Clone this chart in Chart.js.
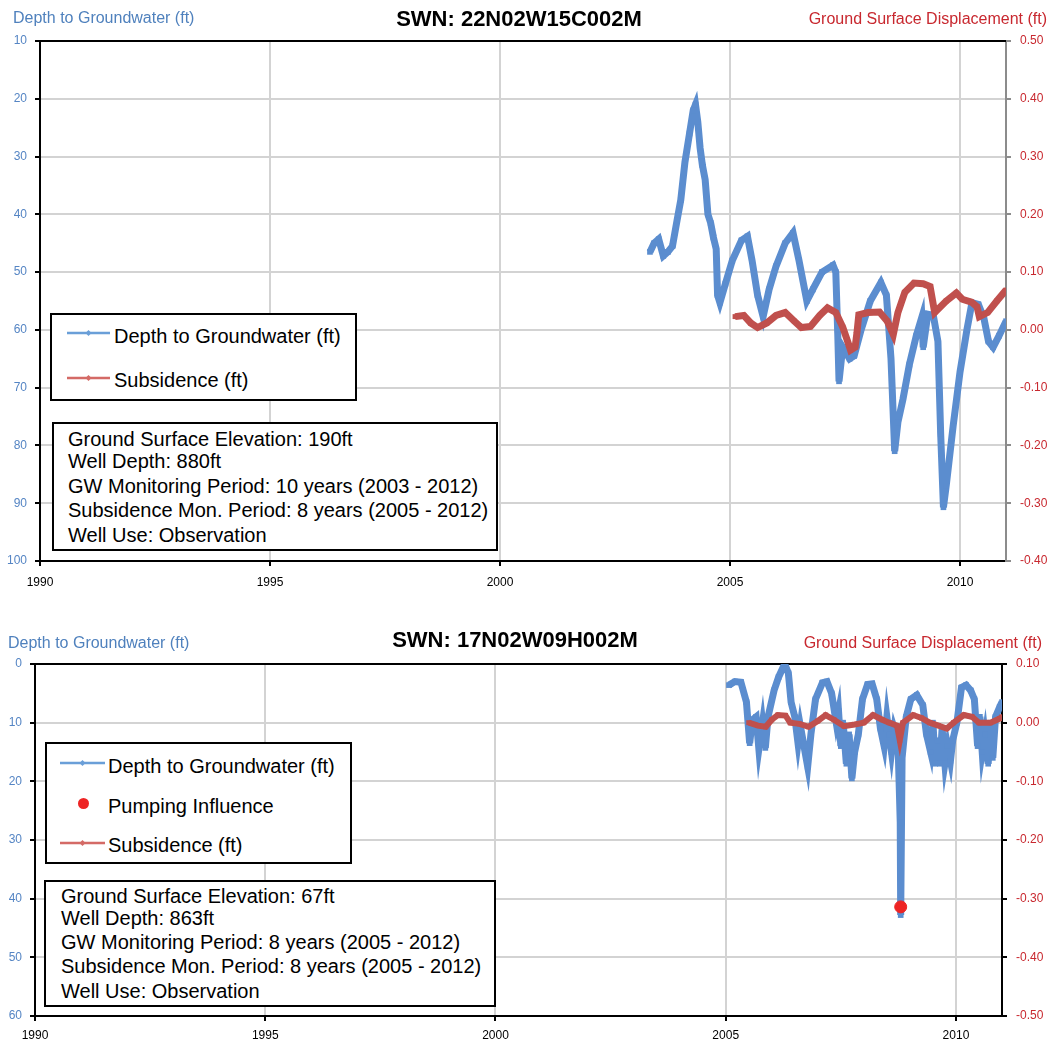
<!DOCTYPE html>
<html>
<head>
<meta charset="utf-8">
<script src="https://cdn.jsdelivr.net/npm/chart.js@4.4.1/dist/chart.umd.min.js"></script>
<style>
  body { margin: 0; background: #fff; font-family: "Liberation Sans", Arial, sans-serif; }
  #page { position: relative; width: 1058px; height: 1044px; overflow: hidden; }
  canvas { position: absolute; left: 0; }
  .t { position: absolute; white-space: nowrap; line-height: 1; }
  .box { position: absolute; border: 2px solid #000; background: #fff; box-sizing: border-box; }
  .lg { position: absolute; }
</style>
</head>
<body>
<div id="page">
  <canvas id="topChart" width="1058" height="600" style="top:0"></canvas>
  <canvas id="bottomChart" width="1058" height="424" style="top:620px"></canvas>
</div>
<script>
const xTicks = [1990, 1995, 2000, 2005, 2010];
const topLeftTicks = [10, 20, 30, 40, 50, 60, 70, 80, 90, 100];
const topRightTicks = [-0.4, -0.3, -0.2, -0.1, 0, 0.1, 0.2, 0.3, 0.4, 0.5];

const topDepthYears = [2003.26, 2003.35, 2003.45, 2003.55, 2003.65, 2003.75, 2003.85, 2003.93, 2004.02, 2004.12,
  2004.20, 2004.25, 2004.30, 2004.35, 2004.40, 2004.46, 2004.52, 2004.58, 2004.64, 2004.70,
  2004.73, 2004.78, 2004.90, 2005.05, 2005.25, 2005.38, 2005.48, 2005.60, 2005.72, 2005.85,
  2006.00, 2006.20, 2006.37, 2006.50, 2006.67, 2006.80, 2007.00, 2007.24, 2007.30, 2007.34,
  2007.37, 2007.45, 2007.60, 2007.70, 2007.85, 2008.05, 2008.28, 2008.40, 2008.50, 2008.58,
  2008.65, 2008.76, 2008.90, 2009.05, 2009.17, 2009.20, 2009.30, 2009.42, 2009.52, 2009.58,
  2009.64, 2009.70, 2009.85, 2010.00, 2010.15, 2010.26, 2010.40, 2010.52, 2010.62, 2010.72,
  2010.85, 2011.00];
const topDepthValues = [46.5, 45.0, 44.3, 47.2, 46.5, 45.5, 41, 37.5, 31, 26,
  22, 21, 24, 28.5, 31.5, 34, 40, 41.5, 44, 46,
  54, 55.3, 52, 48, 44.5, 43.8, 48, 54, 57.7, 53,
  49, 45, 43.2, 48, 55, 53, 50, 48.8, 50, 60,
  68.9, 63, 65, 64.5, 60, 55, 51.8, 54, 65, 81,
  76, 72, 66, 61, 57.8, 63, 57.3, 57.5, 62, 78,
  90.7, 87, 76.7, 67.3, 60, 55.3, 55.6, 58, 62, 63,
  61, 58.5];

const topSubYears = [2005.11, 2005.30, 2005.45, 2005.60, 2005.80, 2006.00, 2006.20, 2006.40, 2006.55, 2006.75,
  2006.95, 2007.12, 2007.30, 2007.45, 2007.55, 2007.62, 2007.72, 2007.76, 2007.80, 2008.00,
  2008.25, 2008.42, 2008.55, 2008.65, 2008.80, 2009.00, 2009.20, 2009.35, 2009.45, 2009.70,
  2009.92, 2010.05, 2010.25, 2010.37, 2010.42, 2010.60, 2010.80, 2011.00];
const topSubValues = [0.023, 0.025, 0.012, 0.004, 0.012, 0.025, 0.030, 0.015, 0.004, 0.006,
  0.025, 0.038, 0.030, 0.005, -0.018, -0.035, -0.030, -0.005, 0.026, 0.030,
  0.031, 0.015, -0.008, 0.030, 0.065, 0.081, 0.080, 0.075, 0.030, 0.050,
  0.064, 0.053, 0.048, 0.040, 0.023, 0.030, 0.050, 0.069];

const bottomLeftTicks = [0, 10, 20, 30, 40, 50, 60];
const bottomRightTicks = [-0.5, -0.4, -0.3, -0.2, -0.1, 0, 0.1];

const bottomDepthYears = [2005.07, 2005.20, 2005.33, 2005.45, 2005.52, 2005.58, 2005.66, 2005.72, 2005.80, 2005.86,
  2005.92, 2006.05, 2006.15, 2006.28, 2006.36, 2006.42, 2006.50, 2006.57, 2006.62, 2006.70,
  2006.78, 2006.85, 2006.95, 2007.10, 2007.20, 2007.30, 2007.40, 2007.45, 2007.50, 2007.55,
  2007.62, 2007.68, 2007.74, 2007.80, 2007.88, 2007.97, 2008.08, 2008.18, 2008.28, 2008.36,
  2008.44, 2008.50, 2008.55, 2008.60, 2008.66, 2008.74, 2008.79, 2008.80, 2008.83, 2008.92,
  2009.02, 2009.15, 2009.28, 2009.36, 2009.45, 2009.50, 2009.55, 2009.60, 2009.65, 2009.70,
  2009.76, 2009.82, 2009.88, 2009.93, 2010.02, 2010.12, 2010.22, 2010.32, 2010.40, 2010.47,
  2010.52, 2010.57, 2010.63, 2010.70, 2010.75, 2010.80, 2010.86, 2010.95, 2011.00];
const bottomDepthValues = [3.6, 3.0, 3.1, 6.5, 13.5, 9.5, 9.0, 14.5, 10, 14.3,
  9, 4.5, 2.2, 0, 1.5, 6.5, 9, 13.5, 10.5, 14,
  17.5, 12, 6, 3.2, 3.0, 5, 10, 8, 14, 10,
  17, 12, 19.5, 15, 12, 6, 3.5, 3.4, 6, 11,
  14, 9, 12, 15, 11, 13, 27, 42.8, 16, 9,
  6, 5.3, 7, 12, 15, 10, 17, 13, 17, 11,
  17, 14, 16.5, 13, 10, 4, 3.6, 4.5, 6, 14,
  9, 15, 12, 17, 10, 16, 9, 7.3, 6.5];

const pumpingYears = [2008.80];
const pumpingValues = [41.4];

const bottomSubYears = [2005.50, 2005.70, 2005.87, 2006.00, 2006.13, 2006.30, 2006.40, 2006.60, 2006.80, 2007.00,
  2007.17, 2007.35, 2007.57, 2007.80, 2008.00, 2008.20, 2008.40, 2008.55, 2008.72, 2008.78,
  2008.85, 2009.07, 2009.25, 2009.43, 2009.62, 2009.80, 2009.95, 2010.17, 2010.35, 2010.50,
  2010.75, 2010.95, 2011.00];
const bottomSubValues = [0.0, -0.005, -0.007, 0.005, 0.013, 0.012, 0.0, -0.002, -0.007, 0.003,
  0.013, 0.005, -0.006, -0.003, 0.0, 0.013, 0.005, 0.0, -0.005, -0.03,
  0.0, 0.013, 0.008, 0.0, -0.005, -0.01, 0.0, 0.013, 0.01, 0.0,
  0.0, 0.007, 0.01];

const BLUE = '#5b8dcf';
const RED = '#c0504d';
const GRID = '#d3d3d3';

Chart.defaults.font.family = '"Liberation Sans", Arial, sans-serif';
Chart.defaults.font.size = 12;

function pts(xs, ys) {
  return xs.map((x, i) => ({ x: x, y: ys[i] }));
}

// ligne noire en haut de la zone de tracé
const topLine = {
  id: 'topLine',
  beforeDatasetsDraw(chart) {
    const a = chart.chartArea;
    const ctx = chart.ctx;
    ctx.save();
    ctx.strokeStyle = '#000';
    ctx.lineWidth = 2;
    ctx.beginPath();
    ctx.moveTo(a.left - 1, a.top);
    ctx.lineTo(a.right, a.top);
    ctx.stroke();
    ctx.restore();
  }
};

function makeChart(id, o) {
  const datasets = [];
  if (o.pumping) {
    datasets.push({
      data: o.pumping, showLine: false, pointRadius: 6, pointHoverRadius: 6,
      pointBackgroundColor: '#ee2424', pointBorderColor: '#ee2424', yAxisID: 'yL'
    });
  }
  datasets.push({
    data: o.sub, borderColor: RED, backgroundColor: RED, borderWidth: o.subW,
    pointStyle: 'rect', pointRadius: 3.5, pointBorderWidth: 0, pointBackgroundColor: RED,
    tension: 0, yAxisID: 'yR'
  });
  datasets.push({
    data: o.depth, borderColor: BLUE, backgroundColor: BLUE, borderWidth: 7,
    pointStyle: 'rect', pointRadius: 4, pointBorderWidth: 0, pointBackgroundColor: BLUE,
    tension: 0, yAxisID: 'yL'
  });

  return new Chart(document.getElementById(id).getContext('2d'), {
    type: 'line',
    data: { datasets: datasets },
    options: {
      responsive: false,
      animation: false,
      layout: { padding: { top: o.padTop, left: 0, right: 0, bottom: 0 } },
      plugins: { legend: { display: false }, tooltip: { enabled: false } },
      scales: {
        x: {
          type: 'linear', min: 1990, max: 2011,
          afterBuildTicks: a => { a.ticks = xTicks.map(v => ({ value: v })); },
          afterFit: a => { a.height = o.xH; },
          grid: { color: GRID, lineWidth: 2, tickColor: '#000', tickLength: 5 },
          border: { color: '#000', width: 2 },
          ticks: { color: '#000', padding: o.xPad, maxRotation: 0, autoSkip: false, callback: v => String(v) }
        },
        yL: {
          type: 'linear', position: 'left', reverse: true, min: o.leftTicks[0], max: o.leftTicks[o.leftTicks.length - 1],
          afterBuildTicks: a => { a.ticks = o.leftTicks.map(v => ({ value: v })); },
          afterFit: a => { a.width = o.leftW; },
          grid: { color: GRID, lineWidth: 2, tickColor: '#000', tickLength: 5 },
          border: { color: '#000', width: 2 },
          ticks: { color: '#5585c4', padding: 8, callback: v => String(v) }
        },
        yR: {
          type: 'linear', position: 'right', min: o.rightTicks[0], max: o.rightTicks[o.rightTicks.length - 1],
          afterBuildTicks: a => { a.ticks = o.rightTicks.map(v => ({ value: v })); },
          afterFit: a => { a.width = o.rightW; },
          grid: { drawOnChartArea: false, tickColor: o.rightColor, tickLength: 5, lineWidth: 2 },
          border: { color: o.rightColor, width: 2 },
          ticks: { color: '#c8282f', padding: 9, callback: v => v.toFixed(2) }
        }
      }
    },
    plugins: [topLine]
  });
}

const chartTop = makeChart('topChart', {
  depth: pts(topDepthYears, topDepthValues),
  sub: pts(topSubYears, topSubValues),
  leftTicks: topLeftTicks, rightTicks: topRightTicks,
  padTop: 41, xH: 39, xPad: 9, leftW: 40, rightW: 52, rightColor: '#8c8c8c', subW: 7
});

const chartBottom = makeChart('bottomChart', {
  depth: pts(bottomDepthYears, bottomDepthValues),
  sub: pts(bottomSubYears, bottomSubValues),
  pumping: pts(pumpingYears, pumpingValues),
  leftTicks: bottomLeftTicks, rightTicks: bottomRightTicks,
  padTop: 44, xH: 28, xPad: 7, leftW: 35, rightW: 56, rightColor: '#000', subW: 6
});

// textes, légendes et cadres d'information
const page = document.getElementById('page');

function addText(txt, left, baseline, size, color, bold, align) {
  const d = document.createElement('div');
  d.className = 't';
  d.textContent = txt;
  d.style.fontSize = size + 'px';
  d.style.color = color;
  d.style.top = (baseline - size * 0.8465) + 'px';
  if (bold) d.style.fontWeight = 'bold';
  if (align === 'right') {
    d.style.right = (1058 - left) + 'px';
  } else if (align === 'center') {
    d.style.left = (left - 300) + 'px';
    d.style.width = '600px';
    d.style.textAlign = 'center';
  } else {
    d.style.left = left + 'px';
  }
  page.appendChild(d);
}

function addBox(l, t, w, h) {
  const b = document.createElement('div');
  b.className = 'box';
  b.style.left = l + 'px';
  b.style.top = t + 'px';
  b.style.width = w + 'px';
  b.style.height = h + 'px';
  page.appendChild(b);
}

function addLineSample(x1, x2, y, color) {
  const s = document.createElementNS('http://www.w3.org/2000/svg', 'svg');
  s.setAttribute('class', 'lg');
  s.setAttribute('width', x2 - x1);
  s.setAttribute('height', 10);
  s.style.left = x1 + 'px';
  s.style.top = (y - 5) + 'px';
  const m = (x2 - x1) / 2;
  s.innerHTML = '<line x1="0" y1="5" x2="' + (x2 - x1) + '" y2="5" stroke="' + color + '" stroke-width="2.5"/>' +
    '<polygon points="' + (m - 3) + ',5 ' + m + ',2 ' + (m + 3) + ',5 ' + m + ',8" fill="' + color + '"/>';
  page.appendChild(s);
}

function addDot(x, y, r, color) {
  const s = document.createElementNS('http://www.w3.org/2000/svg', 'svg');
  s.setAttribute('class', 'lg');
  s.setAttribute('width', 2 * r + 2);
  s.setAttribute('height', 2 * r + 2);
  s.style.left = (x - r - 1) + 'px';
  s.style.top = (y - r - 1) + 'px';
  s.innerHTML = '<circle cx="' + (r + 1) + '" cy="' + (r + 1) + '" r="' + r + '" fill="' + color + '"/>';
  page.appendChild(s);
}

const TITLE_BLUE = '#4f81bd';
const TITLE_RED = '#c8282f';

// graphique du haut
addText('Depth to Groundwater (ft)', 13, 24, 16, TITLE_BLUE);
addText('SWN: 22N02W15C002M', 519, 27, 22, '#000', true, 'center');
addText('Ground Surface Displacement (ft)', 1047, 25, 16, TITLE_RED, false, 'right');

addBox(50, 313, 307, 88);
addLineSample(67, 110, 333, '#6a9fd8');
addText('Depth to Groundwater (ft)', 114, 343, 20, '#000');
addLineSample(67, 110, 378, '#d46a66');
addText('Subsidence (ft)', 114, 387, 20, '#000');

addBox(52, 422, 446, 129);
addText('Ground Surface Elevation: 190ft', 68, 446, 20, '#000');
addText('Well Depth: 880ft', 68, 468, 20, '#000');
addText('GW Monitoring Period: 10 years (2003 - 2012)', 68, 493, 20, '#000');
addText('Subsidence Mon. Period: 8 years (2005 - 2012)', 68, 517, 20, '#000');
addText('Well Use: Observation', 68, 542, 20, '#000');

// graphique du bas
addText('Depth to Groundwater (ft)', 8, 649, 16, TITLE_BLUE);
addText('SWN: 17N02W09H002M', 515, 648, 22, '#000', true, 'center');
addText('Ground Surface Displacement (ft)', 1042, 649, 16, TITLE_RED, false, 'right');

addBox(45, 742, 307, 122);
addLineSample(60, 105, 763, '#6a9fd8');
addText('Depth to Groundwater (ft)', 108, 773, 20, '#000');
addDot(83, 803, 5.5, '#ee2424');
addText('Pumping Influence', 108, 813, 20, '#000');
addLineSample(60, 105, 843, '#d46a66');
addText('Subsidence (ft)', 108, 852, 20, '#000');

addBox(44, 880, 452, 127);
addText('Ground Surface Elevation: 67ft', 61, 903, 20, '#000');
addText('Well Depth: 863ft', 61, 925, 20, '#000');
addText('GW Monitoring Period: 8 years (2005 - 2012)', 61, 949, 20, '#000');
addText('Subsidence Mon. Period: 8 years (2005 - 2012)', 61, 973, 20, '#000');
addText('Well Use: Observation', 61, 998, 20, '#000');
</script>
</body>
</html>
